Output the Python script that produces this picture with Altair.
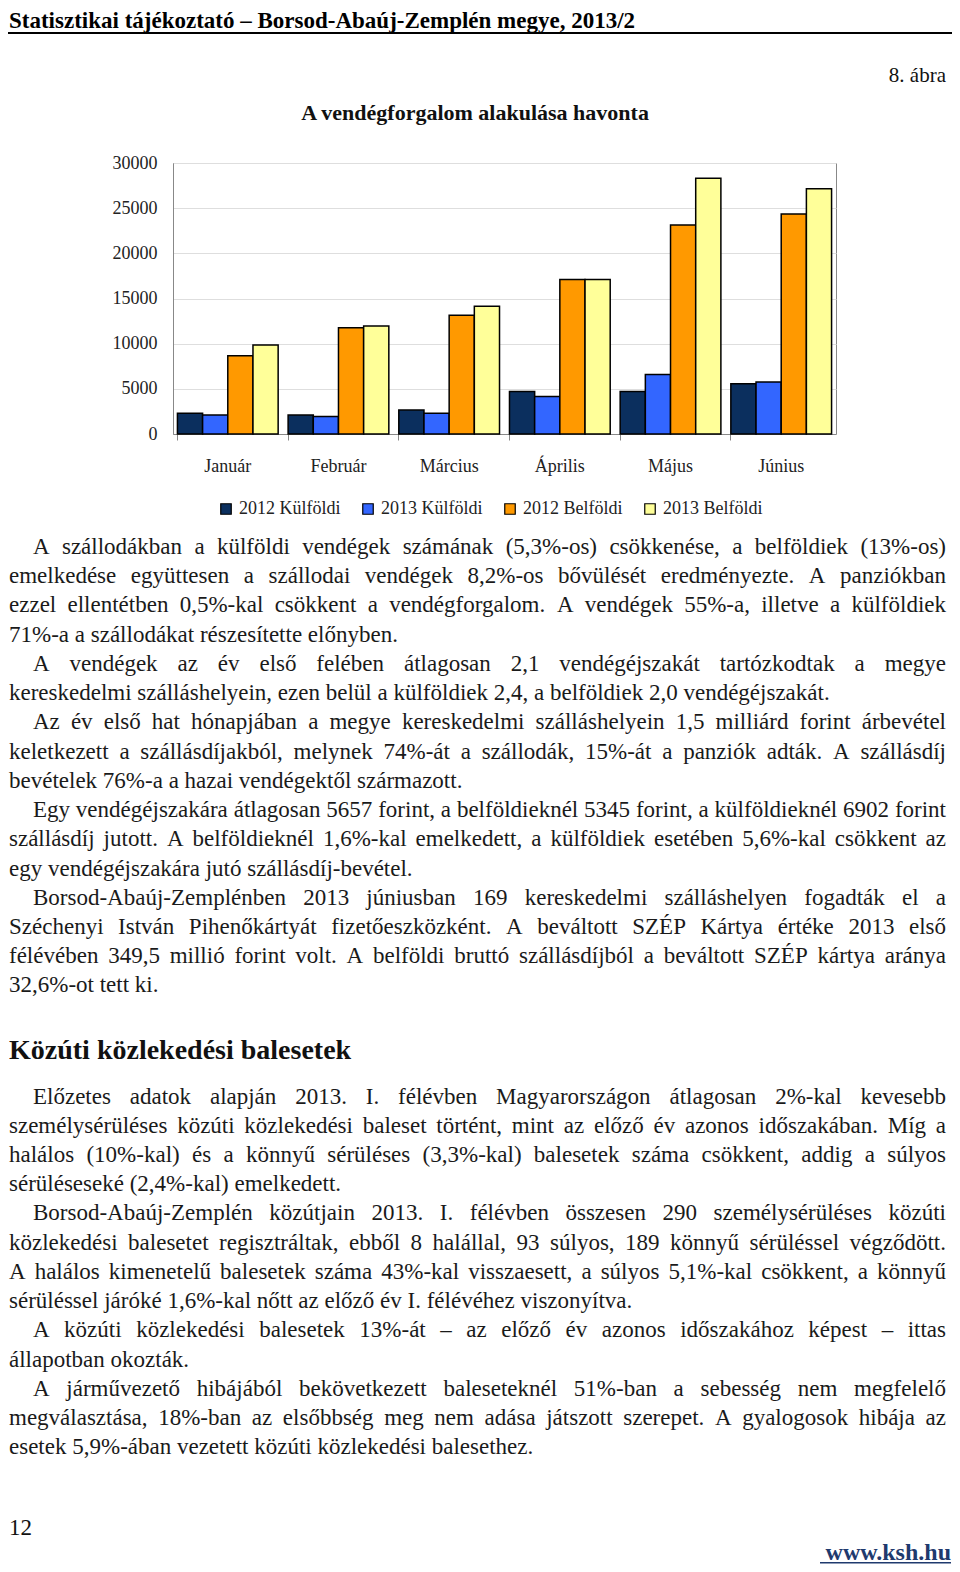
import unicodedata
import altair as alt
import pandas as pd

# ---------------- data ----------------
months = ["Január", "Február", "Március", "Április", "Május", "Június"]
series = ["2012 Külföldi", "2013 Külföldi", "2012 Belföldi", "2013 Belföldi"]
k2012 = [2300, 2100, 2650, 4700, 4700, 5550]
k2013 = [2100, 1950, 2300, 4150, 6600, 5750]
b2012 = [8650, 11750, 13150, 17100, 23150, 24350]
b2013 = [9850, 11950, 14150, 17100, 28300, 27150]
colors = ["#0b2f5e", "#3366ff", "#ff9900", "#ffff99"]
y_ticks = [0, 5000, 10000, 15000, 20000, 25000, 30000]

header_text = "Statisztikai tájékoztató – Borsod-Abaúj-Zemplén megye, 2013/2"
figure_no = "8. ábra"
chart_title = "A vendégforgalom alakulása havonta"
section_heading = "Közúti közlekedési balesetek"
page_no = "12"
url_text = "www.ksh.hu"

section1 = [
    ["A szállodákban a külföldi vendégek számának (5,3%-os) csökkenése, a belföldiek (13%-os)",
     "emelkedése együttesen a szállodai vendégek 8,2%-os bővülését eredményezte. A panziókban",
     "ezzel ellentétben 0,5%-kal csökkent a vendégforgalom. A vendégek 55%-a, illetve a külföldiek",
     "71%-a a szállodákat részesítette előnyben."],
    ["A vendégek az év első felében átlagosan 2,1 vendégéjszakát tartózkodtak a megye",
     "kereskedelmi szálláshelyein, ezen belül a külföldiek 2,4, a belföldiek 2,0 vendégéjszakát."],
    ["Az év első hat hónapjában a megye kereskedelmi szálláshelyein 1,5 milliárd forint árbevétel",
     "keletkezett a szállásdíjakból, melynek 74%-át a szállodák, 15%-át a panziók adták. A szállásdíj",
     "bevételek 76%-a a hazai vendégektől származott."],
    ["Egy vendégéjszakára átlagosan 5657 forint, a belföldieknél 5345 forint, a külföldieknél 6902 forint",
     "szállásdíj jutott. A belföldieknél 1,6%-kal emelkedett, a külföldiek esetében 5,6%-kal csökkent az",
     "egy vendégéjszakára jutó szállásdíj-bevétel."],
    ["Borsod-Abaúj-Zemplénben 2013 júniusban 169 kereskedelmi szálláshelyen fogadták el a",
     "Széchenyi István Pihenőkártyát fizetőeszközként. A beváltott SZÉP Kártya értéke 2013 első",
     "félévében 349,5 millió forint volt. A belföldi bruttó szállásdíjból a beváltott SZÉP kártya aránya",
     "32,6%-ot tett ki."],
]
section2 = [
    ["Előzetes adatok alapján 2013. I. félévben Magyarországon átlagosan 2%-kal kevesebb",
     "személysérüléses közúti közlekedési baleset történt, mint az előző év azonos időszakában. Míg a",
     "halálos (10%-kal) és a könnyű sérüléses (3,3%-kal) balesetek száma csökkent, addig a súlyos",
     "sérüléseseké (2,4%-kal) emelkedett."],
    ["Borsod-Abaúj-Zemplén közútjain 2013. I. félévben összesen 290 személysérüléses közúti",
     "közlekedési balesetet regisztráltak, ebből 8 halállal, 93 súlyos, 189 könnyű sérüléssel végződött.",
     "A halálos kimenetelű balesetek száma 43%-kal visszaesett, a súlyos 5,1%-kal csökkent, a könnyű",
     "sérüléssel járóké 1,6%-kal nőtt az előző év I. félévéhez viszonyítva."],
    ["A közúti közlekedési balesetek 13%-át – az előző év azonos időszakához képest – ittas",
     "állapotban okozták."],
    ["A járművezető hibájából bekövetkezett baleseteknél 51%-ban a sebesség nem megfelelő",
     "megválasztása, 18%-ban az elsőbbség meg nem adása játszott szerepet. A gyalogosok hibája az",
     "esetek 5,9%-ában vezetett közúti közlekedési balesethez."],
]

# ---------------- layout ----------------
FONT = "Liberation Serif"
OX, OY = 173, 163          # plot origin on page
W, H = 663, 271
PAD_L, PAD_T = OX - 8, OY - 8
PAD_R = 944 - PAD_L - W
PAD_B = 1556 - PAD_T - H


def px(X):
    return X - OX


def py(Y):
    return Y - OY


rows = []
for m_i, m in enumerate(months):
    for s, vals in zip(series, [k2012, k2013, b2012, b2013]):
        rows.append({"Hónap": m, "Sorozat": s, "Érték": vals[m_i]})
bars_df = pd.DataFrame(rows)

bars = alt.Chart(bars_df).mark_bar(stroke="black", strokeWidth=1.5).encode(
    x=alt.X("Hónap:N", sort=months,
            scale=alt.Scale(paddingInner=0.09, paddingOuter=0.04),
            axis=alt.Axis(title=None, labelAngle=0, bandPosition=0, tickSize=6,
                          tickColor="#888", domainColor="#888", labelPadding=17,
                          labelFont=FONT, labelFontSize=18, labelColor="#222",
                          grid=False)),
    xOffset=alt.XOffset("Sorozat:N", sort=series,
                        scale=alt.Scale(paddingInner=0, paddingOuter=0)),
    y=alt.Y("Érték:Q", scale=alt.Scale(domain=[0, 30000], nice=False),
            axis=alt.Axis(title=None, values=y_ticks, format="d", tickSize=0,
                          labelPadding=16, labelFont=FONT, labelFontSize=18,
                          labelColor="#222", domainColor="#888", gridColor="#dedede")),
    color=alt.Color("Sorozat:N", sort=series,
                    scale=alt.Scale(domain=series, range=colors),
                    legend=alt.Legend(title=None, orient="none", legendX=44, legendY=337,
                                      direction="horizontal", columns=4,
                                      symbolType="square", symbolSize=110,
                                      symbolStrokeColor="black", symbolStrokeWidth=1.2,
                                      labelFont=FONT, labelFontSize=18, labelColor="#222",
                                      labelOffset=4, columnPadding=18)),
)

# ---------------- justified body text ----------------
BODY = 23
LINE = 29.23
LEFT, INDENT, RIGHT = 9, 33, 946

# advance widths (1/1000 em) of the serif face, used to justify lines
ADV = {" ": 250, "%": 833, "(": 333, ")": 333, ",": 250, "-": 333, ".": 250,
       "/": 278, ":": 278, "–": 500}
ADV.update({d: 500 for d in "0123456789"})
ADV.update(dict(zip("ABCDEFGHIJKLMNOPQRSTUVWXYZ",
                    [722, 667, 667, 722, 611, 556, 722, 722, 333, 389, 722, 611, 889,
                     722, 722, 556, 722, 667, 556, 611, 722, 722, 944, 722, 722, 611])))
ADV.update(dict(zip("abcdefghijklmnopqrstuvwxyz",
                    [444, 500, 444, 500, 444, 333, 500, 500, 278, 278, 500, 278, 778,
                     500, 500, 500, 500, 333, 389, 278, 500, 500, 722, 500, 500, 444])))


def text_width(s, size):
    tot = 0
    for c in s:
        base = unicodedata.normalize("NFD", c)[0]
        tot += ADV.get(c, ADV.get(base, 500))
    return tot / 1000.0 * size


def body_rows(section, y0):
    out = []
    i = 0
    for para in section:
        for j, line in enumerate(para):
            x0 = INDENT if j == 0 else LEFT
            y = py(y0 + i * LINE)
            if j == len(para) - 1:
                out.append({"t": line, "x": px(x0), "y": y})
            else:
                words = line.split(" ")
                widths = [text_width(w, BODY) for w in words]
                gap = (RIGHT - x0 - sum(widths)) / (len(words) - 1)
                x = x0
                for w, wd in zip(words, widths):
                    out.append({"t": w, "x": px(x), "y": y})
                    x += wd + gap
            i += 1
    return out


body_df = pd.DataFrame(body_rows(section1, 554) + body_rows(section2, 1103.5))


def text_layer(df, size, weight="normal", align="left", color="#1a1a1a"):
    return alt.Chart(df).mark_text(
        font=FONT, fontSize=size, fontWeight=weight, align=align,
        baseline="alphabetic", color=color
    ).encode(
        x=alt.X("x:Q", scale=None, axis=None),
        y=alt.Y("y:Q", scale=None, axis=None),
        text="t:N",
    )


def one(t, X, Y):
    return pd.DataFrame({"t": [t], "x": [px(X)], "y": [py(Y)]})


layers = [
    bars,
    text_layer(body_df, BODY),
    text_layer(one(header_text, 9, 28), 23, "bold", color="#000"),
    text_layer(one(figure_no, 946, 82), 21, align="right", color="#111"),
    text_layer(one(chart_title, 475, 120), 22, "bold", align="center", color="#111"),
    text_layer(one(section_heading, 9, 1059), 28, "bold", color="#111"),
    text_layer(one(page_no, 9, 1535), 23, color="#111"),
    text_layer(one(url_text, 951, 1560), 24, "bold", align="right", color="#1f3a6e"),
    alt.Chart(pd.DataFrame({"a": [0]})).mark_rule(color="#000", strokeWidth=2).encode(
        x=alt.value(px(0)), x2=alt.value(px(952)), y=alt.value(py(33))),
    alt.Chart(pd.DataFrame({"a": [0]})).mark_rule(color="#1f3a6e", strokeWidth=1.5).encode(
        x=alt.value(px(820)), x2=alt.value(px(951)), y=alt.value(py(1562.8))),
]

chart = alt.layer(*layers).resolve_scale(x="independent", y="independent").properties(
    width=W, height=H,
    autosize=alt.AutoSizeParams(type="none"),
    padding={"left": PAD_L, "top": PAD_T, "right": PAD_R, "bottom": PAD_B},
).configure_view(stroke="#888", strokeWidth=1)

chart.save("out.html", embed_options={"renderer": "svg", "actions": False})
